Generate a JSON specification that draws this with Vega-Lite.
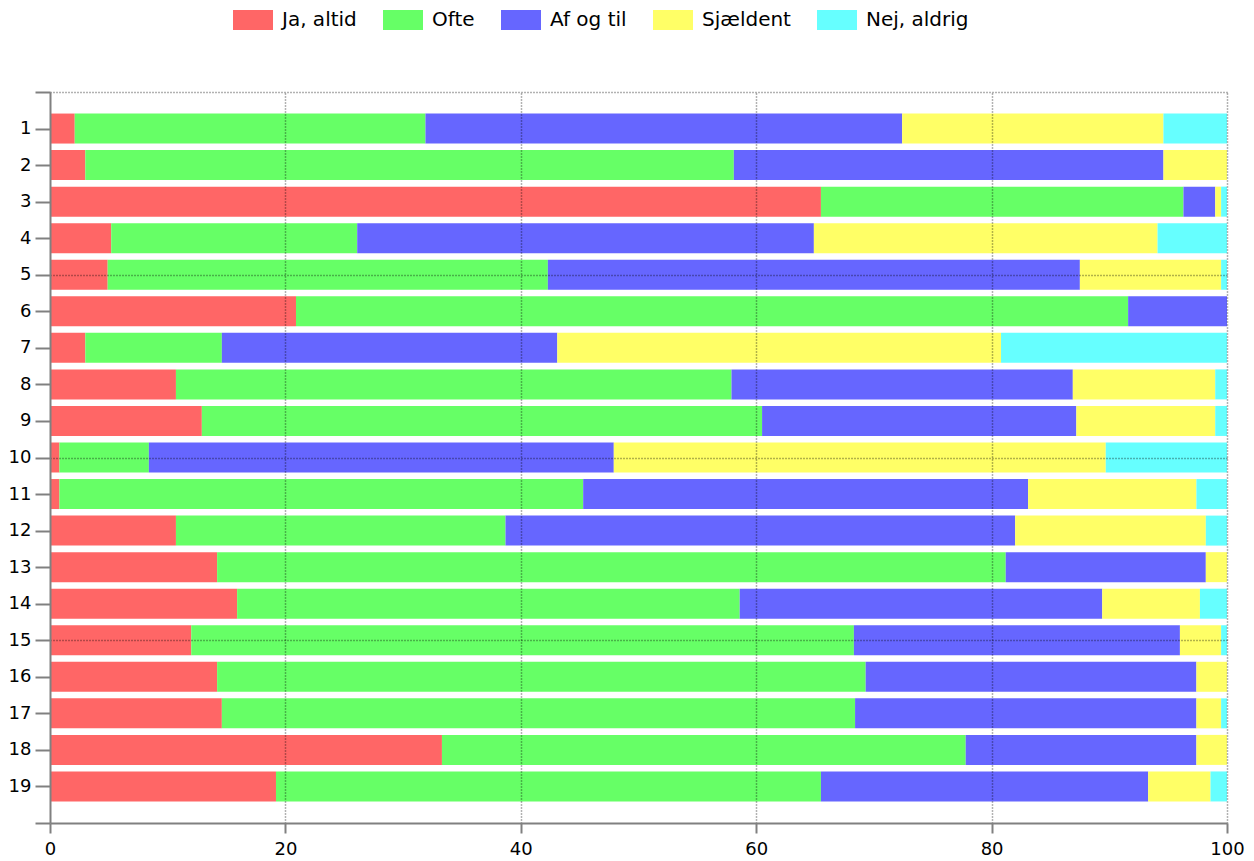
{
  "$schema": "https://vega.github.io/schema/vega-lite/v6.json",
  "width": 1177,
  "height": 731,
  "autosize": {"type": "none"},
  "padding": {"left": 50, "top": 92, "right": 27, "bottom": 38},
  "background": "white",
  "config": {"view": {"stroke": null}, "font": "DejaVu Sans"},
  "data": {
    "values": [
      {"q": 1, "svar": "Ja, altid", "k": 1, "pct": 2.1},
      {"q": 1, "svar": "Ofte", "k": 2, "pct": 29.8},
      {"q": 1, "svar": "Af og til", "k": 3, "pct": 40.5},
      {"q": 1, "svar": "Sjældent", "k": 4, "pct": 22.2},
      {"q": 1, "svar": "Nej, aldrig", "k": 5, "pct": 5.4},
      {"q": 2, "svar": "Ja, altid", "k": 1, "pct": 3.0},
      {"q": 2, "svar": "Ofte", "k": 2, "pct": 55.1},
      {"q": 2, "svar": "Af og til", "k": 3, "pct": 36.5},
      {"q": 2, "svar": "Sjældent", "k": 4, "pct": 5.4},
      {"q": 3, "svar": "Ja, altid", "k": 1, "pct": 65.5},
      {"q": 3, "svar": "Ofte", "k": 2, "pct": 30.8},
      {"q": 3, "svar": "Af og til", "k": 3, "pct": 2.7},
      {"q": 3, "svar": "Sjældent", "k": 4, "pct": 0.5},
      {"q": 3, "svar": "Nej, aldrig", "k": 5, "pct": 0.5},
      {"q": 4, "svar": "Ja, altid", "k": 1, "pct": 5.2},
      {"q": 4, "svar": "Ofte", "k": 2, "pct": 20.9},
      {"q": 4, "svar": "Af og til", "k": 3, "pct": 38.8},
      {"q": 4, "svar": "Sjældent", "k": 4, "pct": 29.2},
      {"q": 4, "svar": "Nej, aldrig", "k": 5, "pct": 5.9},
      {"q": 5, "svar": "Ja, altid", "k": 1, "pct": 4.9},
      {"q": 5, "svar": "Ofte", "k": 2, "pct": 37.4},
      {"q": 5, "svar": "Af og til", "k": 3, "pct": 45.2},
      {"q": 5, "svar": "Sjældent", "k": 4, "pct": 12.0},
      {"q": 5, "svar": "Nej, aldrig", "k": 5, "pct": 0.5},
      {"q": 6, "svar": "Ja, altid", "k": 1, "pct": 20.9},
      {"q": 6, "svar": "Ofte", "k": 2, "pct": 70.7},
      {"q": 6, "svar": "Af og til", "k": 3, "pct": 8.4},
      {"q": 7, "svar": "Ja, altid", "k": 1, "pct": 3.0},
      {"q": 7, "svar": "Ofte", "k": 2, "pct": 11.6},
      {"q": 7, "svar": "Af og til", "k": 3, "pct": 28.5},
      {"q": 7, "svar": "Sjældent", "k": 4, "pct": 37.7},
      {"q": 7, "svar": "Nej, aldrig", "k": 5, "pct": 19.2},
      {"q": 8, "svar": "Ja, altid", "k": 1, "pct": 10.7},
      {"q": 8, "svar": "Ofte", "k": 2, "pct": 47.2},
      {"q": 8, "svar": "Af og til", "k": 3, "pct": 29.0},
      {"q": 8, "svar": "Sjældent", "k": 4, "pct": 12.1},
      {"q": 8, "svar": "Nej, aldrig", "k": 5, "pct": 1.0},
      {"q": 9, "svar": "Ja, altid", "k": 1, "pct": 12.9},
      {"q": 9, "svar": "Ofte", "k": 2, "pct": 47.6},
      {"q": 9, "svar": "Af og til", "k": 3, "pct": 26.7},
      {"q": 9, "svar": "Sjældent", "k": 4, "pct": 11.8},
      {"q": 9, "svar": "Nej, aldrig", "k": 5, "pct": 1.0},
      {"q": 10, "svar": "Ja, altid", "k": 1, "pct": 0.8},
      {"q": 10, "svar": "Ofte", "k": 2, "pct": 7.6},
      {"q": 10, "svar": "Af og til", "k": 3, "pct": 39.5},
      {"q": 10, "svar": "Sjældent", "k": 4, "pct": 41.8},
      {"q": 10, "svar": "Nej, aldrig", "k": 5, "pct": 10.3},
      {"q": 11, "svar": "Ja, altid", "k": 1, "pct": 0.8},
      {"q": 11, "svar": "Ofte", "k": 2, "pct": 44.5},
      {"q": 11, "svar": "Af og til", "k": 3, "pct": 37.8},
      {"q": 11, "svar": "Sjældent", "k": 4, "pct": 14.3},
      {"q": 11, "svar": "Nej, aldrig", "k": 5, "pct": 2.6},
      {"q": 12, "svar": "Ja, altid", "k": 1, "pct": 10.7},
      {"q": 12, "svar": "Ofte", "k": 2, "pct": 28.0},
      {"q": 12, "svar": "Af og til", "k": 3, "pct": 43.3},
      {"q": 12, "svar": "Sjældent", "k": 4, "pct": 16.2},
      {"q": 12, "svar": "Nej, aldrig", "k": 5, "pct": 1.8},
      {"q": 13, "svar": "Ja, altid", "k": 1, "pct": 14.2},
      {"q": 13, "svar": "Ofte", "k": 2, "pct": 67.0},
      {"q": 13, "svar": "Af og til", "k": 3, "pct": 17.0},
      {"q": 13, "svar": "Sjældent", "k": 4, "pct": 1.8},
      {"q": 14, "svar": "Ja, altid", "k": 1, "pct": 15.9},
      {"q": 14, "svar": "Ofte", "k": 2, "pct": 42.7},
      {"q": 14, "svar": "Af og til", "k": 3, "pct": 30.8},
      {"q": 14, "svar": "Sjældent", "k": 4, "pct": 8.3},
      {"q": 14, "svar": "Nej, aldrig", "k": 5, "pct": 2.3},
      {"q": 15, "svar": "Ja, altid", "k": 1, "pct": 12.0},
      {"q": 15, "svar": "Ofte", "k": 2, "pct": 56.3},
      {"q": 15, "svar": "Af og til", "k": 3, "pct": 27.7},
      {"q": 15, "svar": "Sjældent", "k": 4, "pct": 3.5},
      {"q": 15, "svar": "Nej, aldrig", "k": 5, "pct": 0.5},
      {"q": 16, "svar": "Ja, altid", "k": 1, "pct": 14.2},
      {"q": 16, "svar": "Ofte", "k": 2, "pct": 55.1},
      {"q": 16, "svar": "Af og til", "k": 3, "pct": 28.1},
      {"q": 16, "svar": "Sjældent", "k": 4, "pct": 2.6},
      {"q": 17, "svar": "Ja, altid", "k": 1, "pct": 14.6},
      {"q": 17, "svar": "Ofte", "k": 2, "pct": 53.8},
      {"q": 17, "svar": "Af og til", "k": 3, "pct": 29.0},
      {"q": 17, "svar": "Sjældent", "k": 4, "pct": 2.1},
      {"q": 17, "svar": "Nej, aldrig", "k": 5, "pct": 0.5},
      {"q": 18, "svar": "Ja, altid", "k": 1, "pct": 33.3},
      {"q": 18, "svar": "Ofte", "k": 2, "pct": 44.5},
      {"q": 18, "svar": "Af og til", "k": 3, "pct": 19.6},
      {"q": 18, "svar": "Sjældent", "k": 4, "pct": 2.6},
      {"q": 19, "svar": "Ja, altid", "k": 1, "pct": 19.2},
      {"q": 19, "svar": "Ofte", "k": 2, "pct": 46.3},
      {"q": 19, "svar": "Af og til", "k": 3, "pct": 27.8},
      {"q": 19, "svar": "Sjældent", "k": 4, "pct": 5.3},
      {"q": 19, "svar": "Nej, aldrig", "k": 5, "pct": 1.4}
    ]
  },
  "mark": {"type": "bar", "orient": "horizontal", "height": 30},
  "encoding": {
    "y": {
      "field": "q",
      "type": "quantitative",
      "scale": {"domain": [0, 20], "reverse": true, "nice": false, "zero": false, "padding": 0},
      "axis": {
        "title": null,
        "values": [0, 1, 2, 3, 4, 5, 6, 7, 8, 9, 10, 11, 12, 13, 14, 15, 16, 17, 18, 19, 20],
        "labelExpr": "datum.value == 0 || datum.value == 20 ? '' : datum.label",
        "labelFont": "DejaVu Sans",
        "labelFontSize": 18,
        "labelColor": "#000",
        "labelPadding": 4,
        "tickSize": 15,
        "tickWidth": 2,
        "tickColor": "#808080",
        "domainColor": "#808080",
        "domainWidth": 2,
        "grid": true,
        "gridColor": "#000",
        "gridOpacity": {"condition": {"test": "datum.value % 5 == 0 && datum.value < 20", "value": 0.6}, "value": 0},
        "gridDash": [1, 2],
        "gridWidth": 1.5,
        "zindex": 1
      }
    },
    "x": {
      "field": "pct",
      "type": "quantitative",
      "stack": "zero",
      "scale": {"domain": [0, 100], "nice": false, "padding": 0},
      "axis": {
        "title": null,
        "values": [0, 20, 40, 60, 80, 100],
        "labelFont": "DejaVu Sans",
        "labelFontSize": 18,
        "labelColor": "#000",
        "labelPadding": 7,
        "labelFlush": false,
        "tickSize": 10,
        "tickWidth": 2,
        "tickColor": "#808080",
        "domainColor": "#808080",
        "domainWidth": 2,
        "grid": true,
        "gridColor": "#000",
        "gridOpacity": {"condition": {"test": "datum.value > 0", "value": 0.6}, "value": 0},
        "gridDash": [1, 2],
        "gridWidth": 1.5,
        "zindex": 1
      }
    },
    "color": {
      "field": "svar",
      "type": "nominal",
      "scale": {
        "domain": ["Ja, altid", "Ofte", "Af og til", "Sjældent", "Nej, aldrig"],
        "range": ["#ff6666", "#66ff66", "#6666ff", "#ffff66", "#66ffff"]
      },
      "legend": {
        "orient": "none",
        "legendX": 183,
        "legendY": -92,
        "direction": "horizontal",
        "title": null,
        "symbolType": "M-1,-0.5H1V0.5H-1Z",
        "symbolSize": 1600,
        "symbolStrokeWidth": 0,
        "symbolOpacity": 1,
        "labelFont": "DejaVu Sans",
        "labelFontSize": 20,
        "labelColor": "#000",
        "labelOffset": 9,
        "columnPadding": 26,
        "padding": 0
      }
    },
    "order": {"field": "k", "type": "quantitative"}
  }
}
